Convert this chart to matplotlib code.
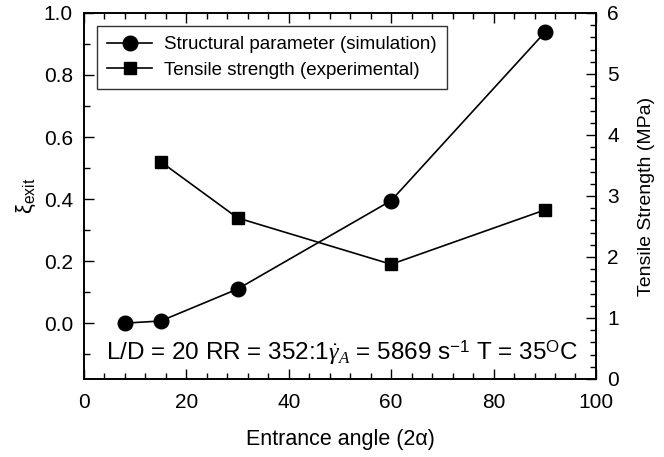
import matplotlib.pyplot as plt
from matplotlib.ticker import MultipleLocator

plt.rcParams["font.family"] = ["Liberation Sans", "DejaVu Sans"]
plt.rcParams["mathtext.fontset"] = "custom"
plt.rcParams["mathtext.rm"] = "Liberation Sans"
plt.rcParams["mathtext.it"] = "Liberation Serif:italic"

# structural parameter from simulation
angle_sim = [8, 15, 30, 60, 90]
xi_exit = [0.0, 0.007, 0.11, 0.395, 0.937]

# tensile strength from experiments
angle_exp = [15, 30, 60, 90]
tensile = [3.56, 2.64, 1.88, 2.77]

fig = plt.figure(figsize=(6.64, 4.57), dpi=100)
ax = fig.add_axes([0.1265, 0.1707, 0.771, 0.801])
ax2 = ax.twinx()

l1, = ax.plot(angle_sim, xi_exit, "-o", color="black", lw=1.2, ms=10.5,
              label="Structural parameter (simulation)")
l2, = ax2.plot(angle_exp, tensile, "-s", color="black", lw=1.2, ms=8.5,
               label="Tensile strength (experimental)")

ax.set_xlim(0, 100)
ax.set_ylim(-0.18, 1.0)
ax2.set_ylim(0, 6)

ax.xaxis.set_major_locator(MultipleLocator(20))
ax.xaxis.set_minor_locator(MultipleLocator(4))
ax.yaxis.set_minor_locator(MultipleLocator(0.1))
ax2.yaxis.set_major_locator(MultipleLocator(1))
ax2.yaxis.set_minor_locator(MultipleLocator(0.2))

ax.set_yticks([0.0, 0.2, 0.4, 0.6, 0.8, 1.0])
ax.set_yticklabels(["0.0", "0.2", "0.4", "0.6", "0.8", "1.0"])

ax.tick_params(axis="x", which="both", direction="in", top=True, labelsize=15, pad=10)
ax.tick_params(axis="y", which="both", direction="in", right=False, labelsize=15, pad=8)
ax2.tick_params(axis="y", which="both", direction="in", labelsize=15, pad=8)
for a in (ax, ax2):
    a.tick_params(which="major", length=7, width=1)
    a.tick_params(which="minor", length=4, width=1)
    for s in a.spines.values():
        s.set_linewidth(1.2)

ax.set_xlabel("Entrance angle (2α)", fontsize=15.5, labelpad=12)
ax.set_ylabel(r"ξ$_{\rm exit}$", fontsize=16, labelpad=4)
ax2.set_ylabel("Tensile Strength (MPa)", fontsize=14, labelpad=14)

leg = ax.legend(handles=[l1, l2], loc="upper left", fontsize=13.5,
                frameon=True, fancybox=False, edgecolor="black",
                borderaxespad=0.7, handlelength=2.4, handletextpad=0.6,
                labelspacing=0.45, borderpad=0.55)
leg.get_frame().set_linewidth(1.0)

ax.text(0.504, 0.072,
        r"L/D = 20 RR = 352:1$\dot{\gamma}_A$ = 5869 s$^{-1}$ T = 35$^{\rm O}$C",
        transform=ax.transAxes, ha="center", va="center", fontsize=17.5)

fig.savefig("out.png", dpi=100)
